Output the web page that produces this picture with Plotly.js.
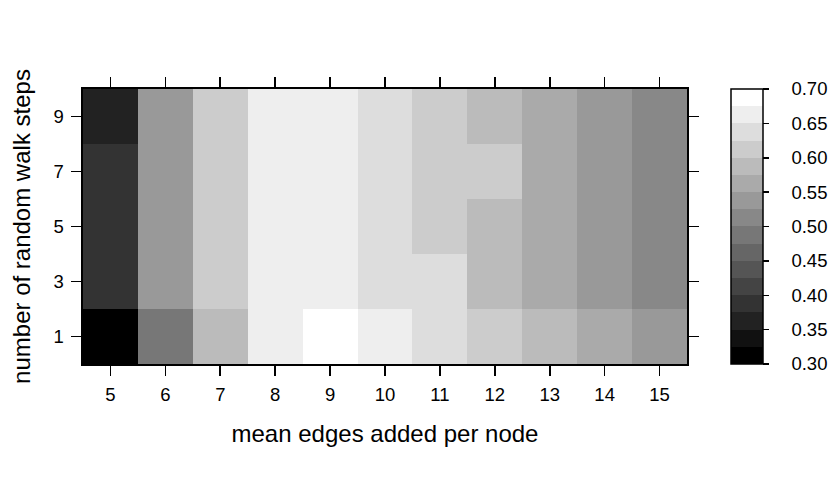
<!DOCTYPE html>
<html>
<head>
<meta charset="utf-8">
<script src="https://cdn.plot.ly/plotly-3.0.1.min.js"></script>
<style>
  body { margin: 0; background: #fff; }
  #myPlot { width: 830px; height: 485px; }
</style>
</head>
<body>
<div id="myPlot"></div>
<script>
// mean edges added per node (columns) and random walk steps (rows)
const edges = [5, 6, 7, 8, 9, 10, 11, 12, 13, 14, 15];
const steps = [1, 3, 5, 7, 9];

// values, one row per walk step count
const row1 = [0.31, 0.49, 0.59, 0.66, 0.69, 0.66, 0.64, 0.61, 0.59, 0.56, 0.54];
const row3 = [0.39, 0.54, 0.61, 0.66, 0.66, 0.64, 0.64, 0.59, 0.56, 0.54, 0.51];
const row5 = [0.39, 0.54, 0.61, 0.66, 0.66, 0.64, 0.61, 0.59, 0.56, 0.54, 0.51];
const row7 = [0.39, 0.54, 0.61, 0.66, 0.66, 0.64, 0.61, 0.61, 0.56, 0.54, 0.51];
const row9 = [0.36, 0.54, 0.61, 0.66, 0.66, 0.64, 0.61, 0.59, 0.56, 0.54, 0.51];

const cbTicks = [0.30, 0.35, 0.40, 0.45, 0.50, 0.55, 0.60, 0.65, 0.70];
// key labels, padded so they sit a bit away from the ticks
const cbLabels = cbTicks.map(function (v) { return '\u2002\u2002' + v.toFixed(2); });

// 16 grey levels from black to white, like the lattice colour key
var scale = [];
var nLev = 16;
for (var i = 0; i < nLev; i++) {
  var g = Math.round(255 * i / (nLev - 1));
  var c = 'rgb(' + g + ',' + g + ',' + g + ')';
  scale.push([i / nLev, c]);
  scale.push([(i + 1) / nLev, c]);
}

const trace = {
  type: 'heatmap',
  x: edges,
  y: steps,
  z: [row1, row3, row5, row7, row9],
  zmin: 0.30,
  zmax: 0.70,
  colorscale: scale,
  zsmooth: false,
  colorbar: {
    x: (731 - 83) / 604,
    xanchor: 'left',
    xpad: 0,
    ypad: 0,
    y: 0.5,
    yanchor: 'middle',
    len: 1,
    lenmode: 'fraction',
    thickness: 32,
    thicknessmode: 'pixels',
    outlinecolor: 'black',
    outlinewidth: 1.5,
    ticks: 'outside',
    ticklen: 6,
    tickwidth: 1.5,
    tickcolor: 'black',
    tickmode: 'array',
    tickvals: cbTicks,
    ticktext: cbLabels,
    tickfont: { family: 'Liberation Sans, Arial, sans-serif', size: 18.5, color: 'black' }
  }
};

const tickFont = { family: 'Liberation Sans, Arial, sans-serif', size: 18.5, color: 'black' };
const titleFont = { family: 'Liberation Sans, Arial, sans-serif', size: 24, color: 'black' };

const layout = {
  width: 830,
  height: 485,
  margin: { l: 83, r: 143, t: 89, b: 121, autoexpand: false },
  paper_bgcolor: 'white',
  plot_bgcolor: 'white',
  xaxis: {
    range: [4.5, 15.5],
    tickvals: edges,
    ticks: 'outside',
    ticklen: 10,
    tickwidth: 1.6,
    tickcolor: 'black',
    ticklabelstandoff: 3,
    showline: true,
    linecolor: 'black',
    linewidth: 1.6,
    mirror: 'ticks',
    showgrid: false,
    zeroline: false,
    tickfont: tickFont,
    title: { text: 'mean edges added per node', font: titleFont, standoff: 21 }
  },
  yaxis: {
    range: [0, 10],
    tickvals: steps,
    ticks: 'outside',
    ticklen: 10,
    tickwidth: 1.6,
    tickcolor: 'black',
    ticklabelstandoff: 4,
    showline: true,
    linecolor: 'black',
    linewidth: 1.6,
    mirror: 'ticks',
    showgrid: false,
    zeroline: false,
    tickfont: tickFont,
    title: { text: 'number of random walk steps', font: titleFont, standoff: 16 }
  }
};

Plotly.newPlot('myPlot', [trace], layout, { displayModeBar: false, staticPlot: true });
</script>
</body>
</html>
